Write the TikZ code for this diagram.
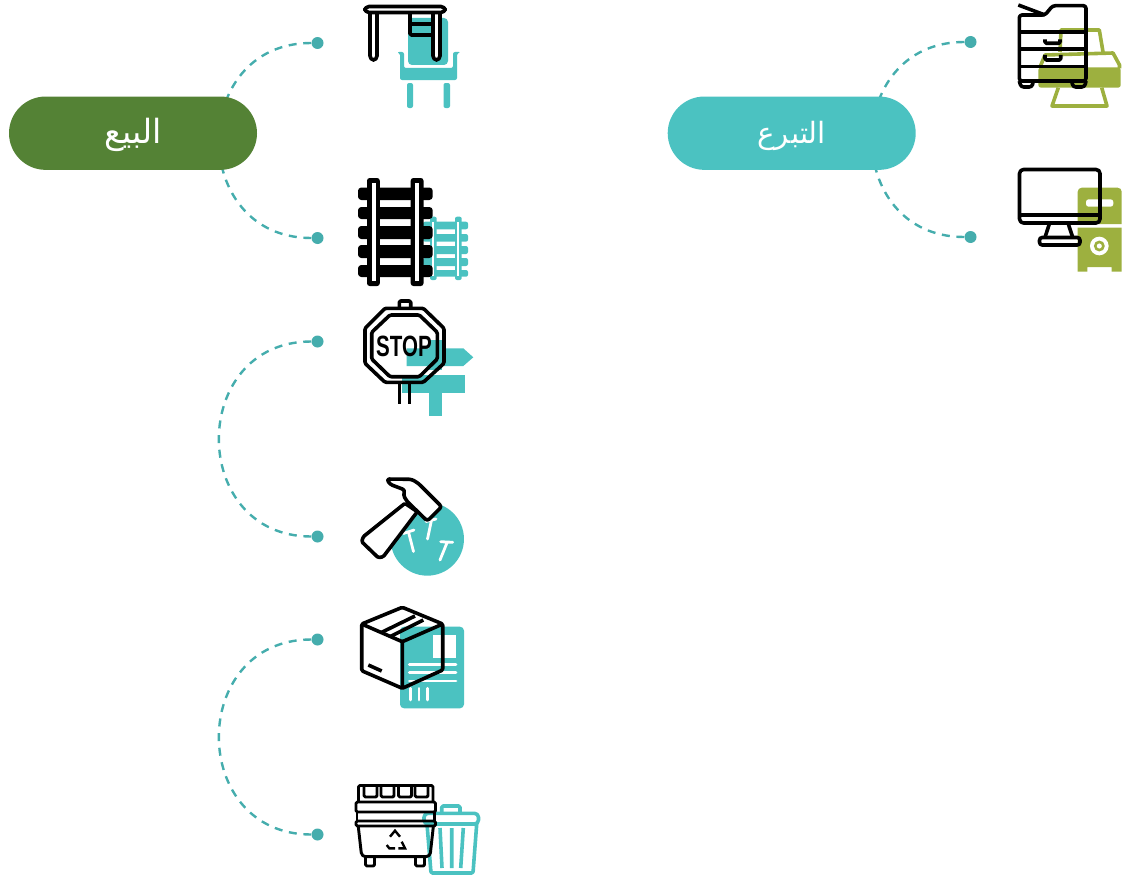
\documentclass[tikz,border=0pt]{standalone}
\usepackage{fontspec}
\usepackage{xcolor}
\setmainfont{Liberation Sans}
\newfontfamily\arabicfont[Script=Arabic]{DejaVu Sans}
\TeXXeTstate=1
\definecolor{salegreen}{HTML}{548235}
\definecolor{giveteal}{HTML}{4BC2C1}
\definecolor{linkteal}{HTML}{45ADAD}
\definecolor{olive}{HTML}{9DB03F}
\tikzset{
    x=0.75pt, y=-0.75pt,
    pill/.style={rounded corners=27.5pt, minimum width=186pt, minimum height=55pt, inner sep=0pt, text=white, font=\arabicfont\fontsize{25}{28}\selectfont},
    dotmark/.style={circle, fill=linkteal, minimum size=9pt, inner sep=0pt},
    linkdash/.style={linkteal, line width=1.8pt, dash pattern=on 6pt off 5pt},
    ink/.style={black, line width=2.7pt, line join=round, rounded corners=1pt},
    tealink/.style={giveteal, line width=2.7pt, line join=round, rounded corners=1pt},
    oliveink/.style={olive, line width=2.7pt, line join=round},
    whitecut/.style={white, line width=2.1pt, line cap=round}
}
\begin{document}
\begin{tikzpicture}
    \useasboundingbox (0,0) rectangle (1126,874);

    % dots and dashed arcs
    \node[dotmark] (sale1) at (317.5,43) {};
    \node[dotmark] (sale2) at (317.5,238) {};
    \node[dotmark] (sale3) at (317.5,341.5) {};
    \node[dotmark] (sale4) at (317.5,536.5) {};
    \node[dotmark] (sale5) at (317.5,639.5) {};
    \node[dotmark] (sale6) at (317.5,834.5) {};
    \node[dotmark] (give1) at (970.5,42) {};
    \node[dotmark] (give2) at (970.5,237) {};
    \draw[linkdash] (sale1) to[out=180, in=180, looseness=1.62] (sale2);
    \draw[linkdash] (sale3) to[out=180, in=180, looseness=1.62] (sale4);
    \draw[linkdash] (sale5) to[out=180, in=180, looseness=1.62] (sale6);
    \draw[linkdash] (give1) to[out=180, in=180, looseness=1.62] (give2);

    \node[pill, fill=salegreen] (sale) at (133,133.2) {\raisebox{-7.5pt}[0pt][0pt]{\beginR البيع\endR}};
    \node[pill, fill=giveteal] (give) at (791.7,133.2) {\fontsize{22}{26}\selectfont\raisebox{-7.5pt}[0pt][0pt]{\beginR التبرع\endR}};

    % desk and chair
    \fill[giveteal, rounded corners=3pt] (408,18) rectangle (448,65);
    \fill[giveteal, rounded corners=1.5pt] (397,52) -- (404,52) -- (404,68) -- (453,68) -- (453,52) -- (461,52) -- (457,53) -- (457,80) -- (400,80) -- (400,53) -- cycle;
    \fill[giveteal, rounded corners=1.5pt] (407,83) rectangle (413,108);
    \fill[giveteal, rounded corners=1.5pt] (443.5,83) rectangle (450,108);
    \draw[ink, fill=white, rounded corners=3pt] (370,13) -- (370,60) -- (377,60) -- (377,13);
    \draw[ink, fill=white, rounded corners=3pt] (433,13) -- (433,60) -- (440,60) -- (440,13);
    \draw[ink] (410,14) -- (410,35) -- (432,35) (410,24) -- (432,24);
    \draw[ink, fill=white, rounded corners=3pt] (365,6.5) rectangle (445,12.5);

    % rails
    \foreach \y/\h in {221.7/7.6, 234/7.7, 246/8, 258/8, 270/6.7}
        \fill[giveteal, rounded corners=1.5pt] (423,\y) rectangle ++(45,\h);
    \foreach \x in {430,455}{
        \fill[giveteal, rounded corners=1.5pt] (\x,216.7) rectangle ++(6.7,63.3);
        \fill[white] (\x+2.3,222) rectangle ++(2,54);
    }
    \foreach \y/\h in {187.5/12.5, 207/12, 226/13, 245/13, 265/12}
        \fill[black, rounded corners=2.5pt] (358,\y) rectangle ++(74.7,\h);
    \foreach \x in {367,410.7}{
        \fill[black, rounded corners=2pt] (\x,178) rectangle ++(12.8,108);
        \fill[white] (\x+4.6,183) rectangle ++(4,98);
    }

    % stop sign and signpost
    \fill[giveteal] (406.7,348.3) -- (463.3,348.3) -- (473.3,357.3) -- (463.3,366) -- (406.7,366) -- cycle;
    \fill[giveteal] (429.3,340) rectangle (442.3,370);
    \fill[giveteal] (402,375) rectangle (465,393.3);
    \fill[giveteal] (429.3,393) rectangle (442.3,415.7);
    \draw[ink] (385,308.3) -- (423.3,308.3) -- (444,328.3) -- (444,363.3) -- (423.3,382.3) -- (385,382.3) -- (365,363.3) -- (365,328.3) -- cycle;
    \draw[ink] (390,315) -- (419.3,315) -- (437.3,332.3) -- (437.3,359) -- (419.3,376.7) -- (390,376.7) -- (371.7,359) -- (371.7,332.3) -- cycle;
    \draw[ink] (399.3,308.3) -- (399.3,301) -- (410.7,301) -- (410.7,308.3);
    \draw[ink] (399.3,383) -- (399.3,403.5) (409.3,383) -- (409.3,403.5);
    \node[font=\bfseries\fontsize{22}{22}\selectfont, xscale=0.7, inner sep=0pt] (stoptext) at (404,346) {STOP};

    % hammer and nails
    \fill[giveteal] (427.3,539) circle (27.5pt);
    \draw[whitecut] (403.3,533.5) -- (414,530) (408.5,532) -- (413.5,551.5);
    \draw[whitecut] (426,521.5) -- (436,519) (431.5,520) -- (427.5,539);
    \draw[whitecut] (440.7,541.7) -- (452.7,542.3) (447.3,542) -- (440,560);
    \draw[ink, fill=white] (405,503.3) -- (363.3,536.7) -- (361.7,541.7) -- (378.3,557.7) -- (383.3,556.7) -- (417.3,511.7) -- cycle;
    \draw[ink, fill=white, rounded corners=2pt] (386.7,479) -- (411.7,479.3) -- (418.3,483.3) -- (441.7,506.7) -- (427.3,521) -- (406.7,501) -- (403.3,495) -- (405,490) -- (390,484.3) -- cycle;

    % parcel and sheet
    \fill[giveteal, rounded corners=3pt] (400,626.7) rectangle (464,708.3);
    \fill[white] (432.7,635) rectangle (456,658.3);
    \foreach \y in {664.3,672.7,681}
        \draw[whitecut] (409.3,\y) -- (456,\y);
    \foreach \x in {410.7,419,427.3}
        \draw[whitecut] (\x,688.3) -- (\x,700);
    \draw[ink] (402.3,607.3) -- (442.7,624) -- (442.7,670) -- (402.3,688.3) -- (361.7,670.7) -- (361.7,624) -- cycle;
    \draw[ink] (361.7,624) -- (402.3,641.7) -- (442.7,624) (402.3,641.7) -- (402.3,688.3);
    \draw[ink] (381.7,632.3) -- (415,616) (390,636.7) -- (423.3,620);
    \draw[ink] (368.3,665) -- (381.7,671);

    % skip and bin
    \draw[tealink] (427,824) -- (431,873) -- (473,873) -- (476.7,824);
    \draw[tealink, rounded corners=3pt] (424,824) -- (424,813.3) -- (478.5,813.3) -- (478.5,824) -- cycle;
    \draw[tealink] (441.7,813) -- (441.7,806) -- (460,806) -- (460,813);
    \draw[tealink] (440,828) -- (442,868) (451.7,828) -- (451.7,868) (463.3,828) -- (460.7,868);
    \draw[ink, line width=2.2pt] (358.5,801) -- (358.5,785.5) -- (433,785.5) -- (433,801);
    \foreach \x in {364,381,398.5,415}
        \draw[ink, line width=2.2pt] (\x,785.5) -- (\x,797) -- (\x+13,797) -- (\x+13,785.5);
    \draw[ink, line width=2.2pt] (356,802) rectangle (435.5,812);
    \draw[ink, line width=2.2pt] (356,821) rectangle (435.5,826);
    \draw[ink, line width=2.2pt] (357,812) -- (357,821) (434.5,812) -- (434.5,821);
    \draw[ink, line width=2.2pt, rounded corners=3pt] (358.3,826.7) -- (361.7,856.7) -- (430,856.7) -- (433.3,826.7);
    \draw[ink, line width=2.2pt] (365.5,857) -- (365.5,866) -- (374.5,866) -- (374.5,857);
    \draw[ink, line width=2.2pt] (415.5,857) -- (415.5,866) -- (424.5,866) -- (424.5,857);
    \draw[black, line width=1.8pt] (390,836.7) -- (395,830.7) -- (400,836.7);
    \draw[black, line width=1.8pt] (386.7,845) -- (389.3,848.3) -- (395,848.3);
    \draw[black, line width=1.8pt] (398.3,848.3) -- (405,848.3) -- (401.7,841.7);

    % printer and copier
    \draw[oliveink] (1060,52) -- (1061,30) -- (1099.3,30) -- (1103,52);
    \draw[oliveink] (1039.5,68.3) -- (1045,55) -- (1113,53) -- (1119.5,65) -- (1119.5,68.3);
    \fill[olive, rounded corners=2pt] (1038.3,67.5) rectangle (1120.7,87.7);
    \draw[oliveink] (1058.3,87.7) -- (1052,106) -- (1107,106) -- (1101.7,87.7);
    \draw[ink] (1018.3,5) -- (1045,15);
    \draw[ink, rounded corners=2pt] (1045,15) -- (1052.7,5.7) -- (1086,5.7) -- (1086,81) -- (1019.3,81) -- (1019.3,15) -- cycle;
    \foreach \y in {32.3,49.3,66.7}
        \draw[ink] (1019.3,\y) -- (1086,\y);
    \draw[ink] (1045,39.3) -- (1045,43.3) -- (1060,43.3) -- (1060,39.3);
    \draw[ink] (1045,55) -- (1045,60) -- (1060.7,60) -- (1060.7,55);
    \draw[ink, rounded corners=2pt] (1019.3,81) -- (1021,87) -- (1032,87) -- (1033.3,81);
    \draw[ink, rounded corners=2pt] (1071.7,81) -- (1073,87) -- (1084.5,87) -- (1086,81);

    % tower and monitor
    \fill[olive] (1077.7,224) [rounded corners=3pt] -- (1077.7,187.7) -- (1121.7,187.7) [sharp corners] -- (1121.7,224) -- cycle;
    \fill[olive] (1077.7,227.7) -- (1121.7,227.7) -- (1121.7,271.7) -- (1111.7,271.7) -- (1111.7,267) -- (1087.3,267) -- (1087.3,271.7) -- (1077.7,271.7) -- cycle;
    \fill[white, rounded corners=2pt] (1086,199.3) rectangle (1113.3,206.7);
    \fill[white] (1099.3,246) circle (7pt);
    \fill[olive] (1099.3,246) circle (4.1pt);
    \fill[white] (1099.3,246) circle (1.9pt);
    \draw[ink, rounded corners=3pt] (1019.5,169.5) rectangle (1100,223);
    \draw[ink] (1019.5,215) -- (1100,215);
    \draw[ink] (1049.3,224) -- (1045,237.3) (1068.3,224) -- (1072.7,237.3);
    \draw[ink, rounded corners=2pt] (1039.5,237.5) rectangle (1080,245);
\end{tikzpicture}
\end{document}
